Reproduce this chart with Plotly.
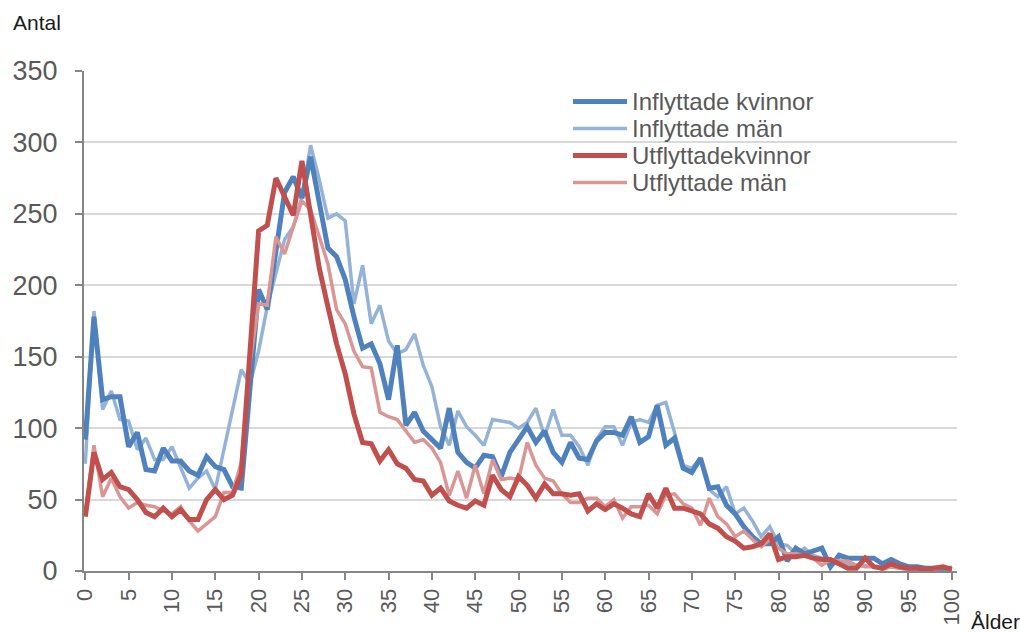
import plotly.graph_objects as go

ages = list(range(0, 101))

inflyttade_kvinnor = [
    92, 178, 120, 122, 122, 87, 97, 71, 70, 86,
    77, 77, 70, 67, 80, 73, 71, 59, 58, 130,
    197, 183, 225, 265, 276, 261, 290, 257, 226, 220,
    204, 178, 156, 159, 145, 120, 158, 102, 111, 98,
    92, 86, 114, 83, 76, 72, 81, 80, 66, 83,
    92, 101, 90, 98, 83, 76, 90, 79, 78, 91,
    97, 97, 95, 108, 90, 94, 116, 88, 93, 72,
    69, 79, 58, 59, 46, 40, 31, 24, 19, 19,
    24, 7, 16, 12, 14, 16, 3, 11, 9, 9,
    9, 9, 5, 8, 5, 3, 3, 2, 2, 2,
    2,
]

inflyttade_man = [
    75, 182, 113, 126, 106, 105, 85, 93, 78, 78,
    87, 73, 58, 65, 70, 57, 85, 115, 141, 131,
    154, 185, 208, 232, 241, 262, 298, 274, 247, 250,
    245, 187, 214, 173, 186, 161, 152, 155, 166, 144,
    129, 101, 88, 112, 101, 95, 88, 106, 105, 104,
    100, 104, 114, 94, 113, 95, 95, 87, 74, 92,
    101, 101, 88, 104, 106, 104, 116, 118, 97, 74,
    72, 79, 57, 52, 59, 40, 44, 35, 24, 31,
    19, 18, 12, 16, 11, 9, 7, 7, 5, 4,
    4, 3, 2, 3, 2, 1, 1, 1, 1, 1,
    1,
]

utflyttade_kvinnor = [
    38, 83, 64, 69, 59, 57, 50, 41, 38, 44,
    38, 43, 36, 36, 50, 57, 50, 53, 68, 150,
    238, 242, 275, 262, 249, 287, 250, 212, 185, 159,
    138, 110, 90, 89, 77, 85, 75, 72, 64, 63,
    53, 58, 49, 46, 44, 49, 46, 67, 57, 52,
    66, 60, 51, 61, 54, 54, 53, 54, 42, 47,
    43, 47, 44, 40, 38, 54, 44, 58, 44, 44,
    42, 40, 33, 30, 24, 21, 16, 17, 19, 26,
    8, 10, 10, 11, 9, 8, 8, 5, 2, 2,
    9, 3, 2, 5, 3, 2, 2, 1, 2, 3,
    1,
]

utflyttade_man = [
    40, 88, 52, 65, 52, 44, 48, 46, 45, 42,
    40, 45, 35, 28, 33, 38, 55, 55, 76, 145,
    187, 186, 234, 222, 241, 259, 253, 234, 215, 183,
    173, 154, 143, 142, 111, 108, 106, 98, 90, 92,
    86, 76, 53, 70, 51, 74, 54, 78, 64, 65,
    64, 90, 74, 65, 63, 54, 48, 48, 51, 51,
    45, 50, 37, 45, 45, 46, 40, 53, 54, 47,
    44, 32, 51, 38, 33, 24, 28, 22, 17, 22,
    16, 12, 12, 11, 9, 4, 8, 7, 7, 4,
    3, 3, 1, 3, 2, 1, 1, 1, 1, 3,
    1,
]

series_names = ["Inflyttade kvinnor", "Inflyttade män", "Utflyttadekvinnor", "Utflyttade män"]
series_values = [inflyttade_kvinnor, inflyttade_man, utflyttade_kvinnor, utflyttade_man]
series_colors = ["#4F81BD", "#95B3D7", "#C0504D", "#DA9694"]
series_widths = [5, 3.5, 5, 3.5]

x_tick_vals = list(range(0, 101, 5))
y_tick_vals = list(range(0, 351, 50))

text_color = "#595959"
font_family = "Liberation Sans, Arial, sans-serif"

W, H = 1020, 632
ML, MR, MT, MB = 84, 63, 71, 61
PW, PH = W - ML - MR, H - MT - MB


def px_x(px):
    return (px - ML) / PW


def px_y(py):
    return (H - MB - py) / PH


fig = go.Figure()
draw_order = [1, 0, 3, 2]
for i in draw_order:
    fig.add_trace(go.Scatter(
        x=ages, y=series_values[i], mode="lines", name=series_names[i],
        line=dict(color=series_colors[i], width=series_widths[i]),
        showlegend=False,
    ))

# legend drawn as shapes + text (positioned in pixels)
legend_rows_y = [101.5, 128.5, 155.5, 182.5]
shapes = []
annotations = []
for name, color, width, ry in zip(series_names, series_colors, series_widths, legend_rows_y):
    shapes.append(dict(type="line", xref="paper", yref="paper",
                       x0=px_x(573), x1=px_x(627), y0=px_y(ry), y1=px_y(ry),
                       line=dict(color=color, width=width)))
    annotations.append(dict(text=name, x=px_x(630), y=px_y(ry), xref="paper", yref="paper",
                            showarrow=False, xanchor="left", yanchor="middle",
                            font=dict(size=24, color=text_color)))

annotations.append(dict(text="Antal", x=px_x(11), y=px_y(23), xref="paper", yref="paper",
                        showarrow=False, xanchor="left", yanchor="middle",
                        font=dict(size=21, color="#1a1a1a")))
annotations.append(dict(text="Ålder", x=px_x(969), y=px_y(621), xref="paper", yref="paper",
                        showarrow=False, xanchor="left", yanchor="middle",
                        font=dict(size=21, color="#1a1a1a")))

fig.update_layout(
    width=W, height=H,
    margin=dict(l=ML, r=MR, t=MT, b=MB, autoexpand=False),
    paper_bgcolor="white", plot_bgcolor="white",
    font=dict(family=font_family, color=text_color),
    showlegend=False,
    xaxis=dict(
        range=[-0.15, 100.6],
        tickmode="array", tickvals=x_tick_vals, ticktext=[str(v) for v in x_tick_vals],
        tickangle=-90, tickfont=dict(size=22, color=text_color),
        ticks="outside", ticklen=7, tickcolor="#868686", tickwidth=2,
        showline=True, linecolor="#868686", linewidth=2,
        showgrid=False, zeroline=False,
    ),
    yaxis=dict(
        range=[0, 350],
        tickmode="array", tickvals=y_tick_vals,
        tickfont=dict(size=27, color=text_color),
        ticks="outside", ticklen=7, tickcolor="#868686", tickwidth=2,
        showline=True, linecolor="#868686", linewidth=2,
        showgrid=True, gridcolor="#D9D9D9", gridwidth=2,
        zeroline=False, ticklabelstandoff=12,
    ),
    shapes=shapes,
    annotations=annotations,
)

fig.write_html("out.html", config={"displayModeBar": False},
               post_script="document.body.style.margin='0';")
